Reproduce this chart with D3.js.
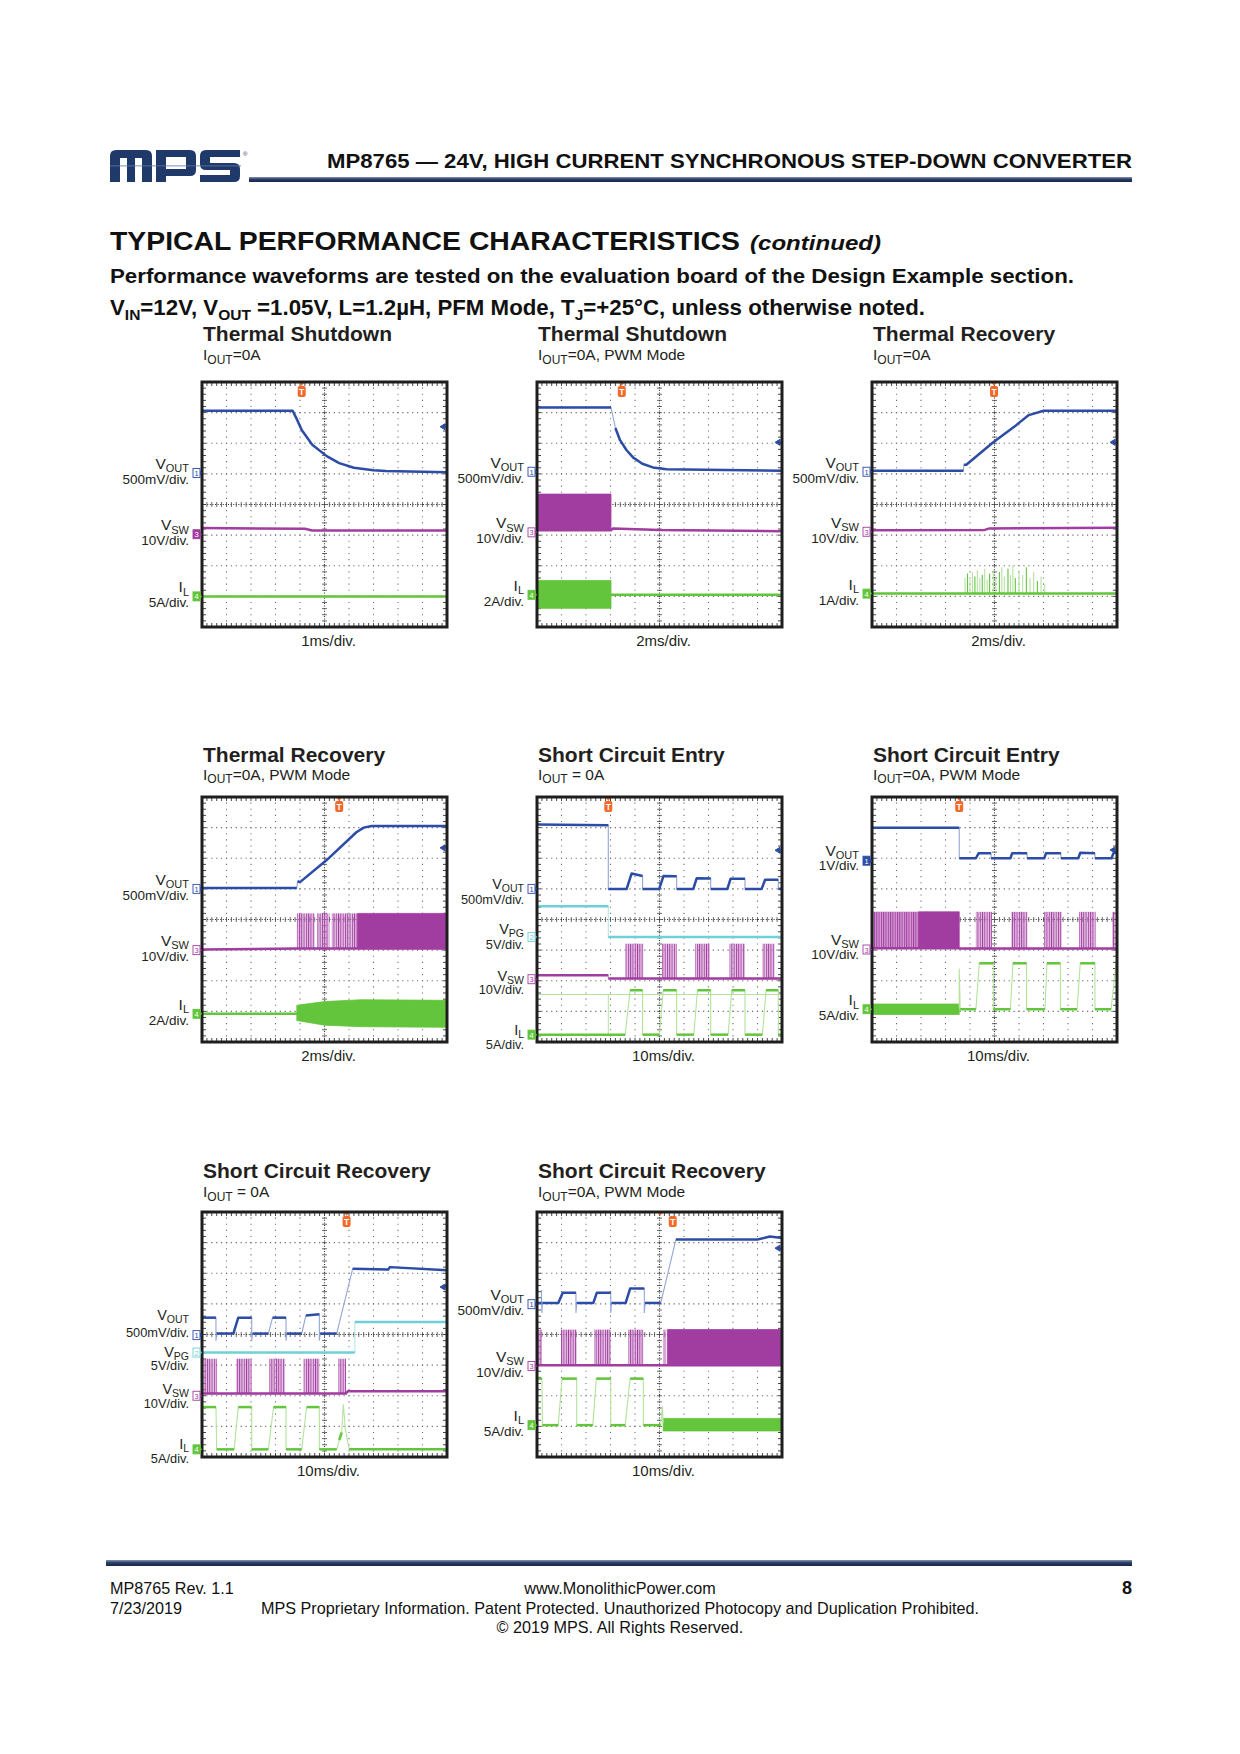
<!doctype html>
<html>
<head>
<meta charset="utf-8">
<title>MP8765 - Typical Performance Characteristics</title>
<style>
  body { margin: 0; background: #fff; }
  svg { display: block; font-family: "Liberation Sans", Arial, Helvetica, sans-serif; }
</style>
</head>
<body>
<div id="here"></div>
<script src="https://cdn.jsdelivr.net/npm/d3@7"></script>
<script>
// scope captures in screen divisions:
// x = time 0..10 div, y = 0..8 div counted from the bottom of the screen

var titles = ["Thermal Shutdown", "Thermal Shutdown", "Thermal Recovery", "Thermal Recovery",
              "Short Circuit Entry", "Short Circuit Entry", "Short Circuit Recovery", "Short Circuit Recovery"];
var subtitles = ["=0A", "=0A, PWM Mode", "=0A", "=0A, PWM Mode", " = 0A", "=0A, PWM Mode", " = 0A", "=0A, PWM Mode"];
var timebase = ["1ms/div.", "2ms/div.", "2ms/div.", "2ms/div.", "10ms/div.", "10ms/div.", "10ms/div.", "10ms/div."];
var triggerAt = [4.07, 3.46, 4.98, 5.6, 2.91, 3.56, 5.9, 5.54];
var triggerPos = [4.07, 3.46, 4.98, 5.6, 2.91, 3.56, 5.9, 5.02];
var levelAt = [6.54, 6.03, 6.03, 6.34, 6.26, 6.27, 5.55, 6.82];

var chanIds = [[1, 3, 4], [1, 3, 4], [1, 3, 4], [1, 3, 4], [1, 2, 3, 4], [1, 3, 4], [1, 2, 3, 4], [1, 3, 4]];
var chanScales = [
  ["500mV/div.", "10V/div.", "5A/div."],
  ["500mV/div.", "10V/div.", "2A/div."],
  ["500mV/div.", "10V/div.", "1A/div."],
  ["500mV/div.", "10V/div.", "2A/div."],
  ["500mV/div.", "5V/div.", "10V/div.", "5A/div."],
  ["1V/div.", "10V/div.", "5A/div."],
  ["500mV/div.", "5V/div.", "10V/div.", "5A/div."],
  ["500mV/div.", "10V/div.", "5A/div."]
];
var chanRefs = [
  [5.03, 3.03, 1.0], [5.07, 3.09, 1.05], [5.07, 3.11, 1.09], [5.0, 3.0, 0.92],
  [5.0, 3.43, 2.05, 0.24], [5.92, 3.02, 1.07], [3.98, 3.41, 2.0, 0.25], [4.99, 2.97, 1.04]
];
var markerFill = [[3, 4], [4], [4], [4], [4], [1, 4], [4], [4]];

// A  thermal shutdown, 1ms/div
var aVout = [[0,7.06],[3.7,7.06],[3.85,6.82],[4.07,6.43],[4.5,5.95],[5.09,5.58],[5.6,5.35],[6.2,5.2],[7.0,5.12],[7.5,5.09],[10,5.05]];
var aVsw = [[0,3.23],[4.2,3.21],[4.5,3.15],[10,3.15]];
var aIl = [[0,1.0],[10,1.0]];

// B  thermal shutdown, PWM
var bVout = [[0,7.17],[3.02,7.17],[3.2,6.5],[3.39,6.1],[3.65,5.78],[3.93,5.53],[4.3,5.33],[4.73,5.21],[5.29,5.15],[10,5.1]];
var bVsw = [[0,3.16],[3.02,3.16],[3.1,3.22],[5,3.17],[10,3.13]];
var bVswBand = [[0,3.16,4.34],[3.02,3.16,4.34]];
var bIl = [[0,1.05],[10,1.05]];
var bIlBand = [[0,0.61,1.52],[3.02,0.61,1.52]];

// C  thermal recovery
var cVout = [[0,5.1],[3.73,5.1],[3.75,5.3],[3.85,5.3],[4.95,6.03],[5.9,6.6],[6.4,6.92],[7.0,7.06],[10,7.06]];
var cVsw = [[0,3.16],[4.6,3.17],[4.8,3.22],[10,3.24]];
var cIl = [[0,1.09],[10,1.09]];
var cIlSpikes = [[3.8,1.6],[3.9,1.75],[4.0,1.55],[4.1,1.8],[4.2,1.65],[4.3,1.85],[4.4,1.6],[4.5,1.7],[4.6,1.9],[4.7,1.55],
                 [4.8,1.75],[4.95,1.85],[5.05,1.6],[5.2,1.8],[5.3,1.95],[5.4,1.65],[5.55,1.9],[5.65,1.7],[5.75,2.0],[5.85,1.6],
                 [6.0,1.85],[6.15,1.7],[6.3,1.95],[6.45,1.6],[6.6,1.8],[6.75,1.5],[6.9,1.65],[7.05,1.4]];

// D  thermal recovery, PWM
var dVout = [[0,5.03],[3.87,5.03],[3.9,5.25],[4.0,5.22],[5.09,5.94],[6.3,6.85],[6.6,7.0],[6.93,7.05],[10,7.05]];
var dVsw = [[0,3.02],[3.87,3.05],[10,3.05]];
var dVswBursts = [[3.87,4.6,3.05,4.2],[4.7,5.2,3.05,4.2],[5.3,6.35,3.05,4.2]];
var dVswBand = [[6.35,3.05,4.2],[10,3.05,4.2]];
var dIl = [[0,0.92],[10,0.92]];
var dIlBand = [[3.87,0.7,1.2],[5,0.55,1.32],[6.5,0.5,1.38],[10,0.48,1.36]];

// E  short circuit entry
var eVout = [[0,7.1],[2.91,7.08],[2.91,5.0],[3.66,5.0],[3.86,5.5],[4.31,5.42],[4.31,5.0],[4.99,5.0],[5.16,5.42],[5.7,5.41],[5.7,5.0],
             [6.38,5.0],[6.52,5.35],[7.09,5.34],[7.09,5.0],[7.77,5.0],[7.9,5.33],[8.49,5.33],[8.49,5.0],[9.17,5.0],[9.31,5.3],[9.85,5.3],[9.85,5.0],[10,5.0]];
var eVpg = [[0,4.43],[2.91,4.43],[2.91,3.43],[10,3.43]];
var eVsw = [[0,2.18],[2.91,2.18],[2.91,2.07],[10,2.07]];
var eVswBursts = [[3.6,4.34,2.07,3.21],[5.1,5.7,2.07,3.21],[6.45,7.05,2.07,3.21],[7.86,8.49,2.07,3.21],[9.2,9.7,2.07,3.21]];
var eIlGhost = [[[0,1.55],[10,1.55]],[[2.91,0.24],[2.91,1.55]]];
var eIl = [[0,0.24],[3.6,0.24],[3.8,1.69],[4.31,1.69],[4.31,0.24],[5.0,0.24],[5.15,1.69],[5.7,1.69],[5.7,0.24],[6.4,0.24],[6.55,1.69],[7.09,1.69],
           [7.09,0.24],[7.8,0.24],[7.95,1.69],[8.49,1.69],[8.49,0.24],[9.2,0.24],[9.35,1.69],[9.85,1.69],[9.85,0.24],[10,0.24]];

// F  short circuit entry, PWM
var fVout = [[0,7.0],[3.56,7.0],[3.56,6.0],[4.24,6.0],[4.35,6.16],[4.86,6.16],[4.86,6.0],[5.65,6.0],[5.72,6.16],[6.33,6.16],[6.33,6.0],[7.03,6.0],
             [7.1,6.16],[7.71,6.16],[7.71,6.0],[8.42,6.0],[8.5,6.18],[9.1,6.16],[9.1,6.0],[9.78,6.0],[9.85,6.16],[10,6.2]];
var fVsw = [[0,3.06],[3.56,3.06],[3.58,3.05],[10,3.05]];
var fVswHaze = [[0,3.06,4.25],[1.9,3.06,4.25]];
var fVswBursts = [[0,1.9,3.06,4.25],[4.24,4.9,3.05,4.25],[5.68,6.35,3.05,4.25],[7.03,7.74,3.05,4.25],[8.45,9.13,3.05,4.25],[9.8,9.93,3.05,4.25]];
var fVswBand = [[1.9,3.06,4.25],[3.56,3.06,4.25]];
var fIl = [[0,1.07],[3.56,1.07],[3.56,2.4],[3.6,1.07],[4.24,1.07],[4.38,2.57],[4.95,2.57],[4.95,1.07],[5.65,1.07],[5.75,2.57],[6.31,2.57],[6.31,1.07],
           [7.06,1.07],[7.14,2.57],[7.69,2.57],[7.69,1.07],[8.37,1.07],[8.5,2.57],[9.1,2.57],[9.1,1.07],[9.76,1.07],[9.96,2.57],[10,2.57]];
var fIlBand = [[0,0.9,1.24],[3.56,0.9,1.24]];

// G  short circuit recovery
var gVout = [[0,4.55],[0.57,4.55],[0.57,3.8],[0.6,4.03],[1.28,4.03],[1.48,4.55],[2.03,4.55],[2.03,3.8],[2.06,4.03],[2.71,4.03],[2.88,4.55],[3.43,4.55],
             [3.43,3.8],[3.46,4.03],[4.07,4.03],[4.24,4.62],[4.79,4.66],[4.79,3.8],[4.82,4.03],[5.5,4.03],[5.55,4.2],[6.15,6.15],[7.6,6.12],[7.67,6.2],[10,6.1]];
var gVpg = [[0,3.41],[6.24,3.41],[6.24,4.41],[10,4.41]];
var gVsw = [[0,2.07],[5.88,2.07],[5.95,2.15],[10,2.15]];
var gVswBursts = [[0.05,0.6,2.07,3.21],[1.39,2.03,2.07,3.21],[2.75,3.39,2.07,3.21],[4.14,4.79,2.07,3.21],[5.57,5.88,2.07,3.21]];
var gIl = [[0,1.63],[0.57,1.63],[0.6,0.25],[1.31,0.25],[1.48,1.63],[2.03,1.63],[2.03,0.25],[2.71,0.25],[2.92,1.63],[3.43,1.63],[3.43,0.25],
           [4.07,0.25],[4.27,1.63],[4.79,1.63],[4.79,0.25],[5.5,0.25],[5.6,0.55],[5.7,0.8],[5.77,1.72],[5.85,0.9],[6.01,0.25],[10,0.25]];

// H  short circuit recovery, PWM
var hVout = [[0,5.03],[0.18,5.03],[0.18,5.45],[0.2,4.7],[0.22,5.03],[0.87,5.03],[1.05,5.36],[1.59,5.36],[1.59,4.7],[1.62,5.03],[2.3,5.03],[2.44,5.36],
             [3.01,5.36],[3.01,4.7],[3.04,5.03],[3.62,5.03],[3.8,5.5],[4.38,5.5],[4.38,4.7],[4.41,5.03],[5.05,5.03],[5.67,7.1],[9.0,7.1],[9.5,7.2],[10,7.15]];
var hVsw = [[0,3.0],[10,3.0]];
var hVswBursts = [[0.05,0.2,3.0,4.16],[0.98,1.62,3.0,4.16],[2.33,3.01,3.0,4.16],[3.73,4.34,3.0,4.16],[5.15,5.25,3.0,4.16]];
var hVswBand = [[5.32,3.0,4.16],[10,3.0,4.16]];
var hIl = [[0,2.56],[0.2,2.56],[0.22,1.04],[0.87,1.04],[1.02,2.56],[1.62,2.56],[1.62,1.04],[2.28,1.04],[2.42,2.56],[3.01,2.56],[3.01,1.04],
           [3.6,1.04],[3.8,2.56],[4.34,2.56],[4.34,1.04],[5.05,1.04],[5.12,1.65],[5.15,1.1]];
var hIlBand = [[5.15,0.85,1.26],[10,0.85,1.26]];

var panels = [
  { lines: [[4, aIl], [3, aVsw], [1, aVout]] },
  { bands: [[4, bIlBand], [3, bVswBand]], lines: [[4, bIl], [3, bVsw], [1, bVout]] },
  { spikes: [[4, 1.09, cIlSpikes]], lines: [[4, cIl], [3, cVsw], [1, cVout]] },
  { bursts: [[3, dVswBursts]], bands: [[4, dIlBand], [3, dVswBand]], lines: [[4, dIl], [3, dVsw], [1, dVout]] },
  { ghosts: [[4, eIlGhost]], bursts: [[3, eVswBursts]], lines: [[4, eIl], [3, eVsw], [2, eVpg], [1, eVout]] },
  { haze: [[3, fVswHaze]], bursts: [[3, fVswBursts]], bands: [[4, fIlBand], [3, fVswBand]], lines: [[4, fIl], [3, fVsw], [1, fVout]] },
  { bursts: [[3, gVswBursts]], lines: [[4, gIl], [3, gVsw], [2, gVpg], [1, gVout]] },
  { bursts: [[3, hVswBursts]], bands: [[4, hIlBand], [3, hVswBand]], lines: [[4, hIl], [3, hVsw], [1, hVout]] }
];

// ---- layout
var S = 245;
var colX = [202, 537, 872], rowY = [382, 797, 1212];
var titleDy = [[-41, -22], [-35, -17.5], [-34, -15]];
var color = {1: "#2d4ca6", 2: "#6fd0d6", 3: "#a13ca0", 4: "#63c53b"};
var light = {1: "#93a5d8", 2: "#b3e8eb", 3: "#d59dd4", 4: "#b3e39d"};
var chName = {1: ["V", "OUT"], 2: ["V", "PG"], 3: ["V", "SW"], 4: ["I", "L"]};
var labelDy = {4: {1: [0, 15], 2: [-3, 12.5], 3: [1.5, 14.5], 4: [0, 14]},
               5: {1: [-5, 9], 3: [-5, 9]},
               6: {1: [-15, 1.5], 2: [4.5, 17.5], 3: [-2, 12], 4: [0, 14]}};
var labelSize = {4: [14.5, 10.5, 12.8], 6: [14.5, 10.5, 12.8]};
var ink = "#231f20";

var svg = d3.select("#here").append("svg").attr("width", 1240).attr("height", 1754);
var defs = svg.append("defs");

// stripes for switching bursts
[3].forEach(function(c) {
  var p = defs.append("pattern").attr("id", "burst" + c).attr("patternUnits", "userSpaceOnUse")
    .attr("width", 2.3).attr("height", 10);
  p.append("rect").attr("x", 0).attr("width", 1.1).attr("height", 10).attr("fill", color[c]);
  p.append("rect").attr("x", 1.3).attr("width", 0.7).attr("height", 10).attr("fill", light[c]);
});
var gr = defs.append("linearGradient").attr("id", "rule").attr("x1", 0).attr("x2", 0).attr("y1", 0).attr("y2", 1);
gr.append("stop").attr("offset", 0).attr("stop-color", "#8796b3");
gr.append("stop").attr("offset", 0.45).attr("stop-color", "#2a3d66");
gr.append("stop").attr("offset", 1).attr("stop-color", "#16264a");

// parts: [text, 0 normal | 1 drop into subscript | -1 come back up]
function subText(t, parts, big, small) {
  parts.forEach(function(p) {
    t.append("tspan").text(p[0]).attr("font-size", p[1] === 1 ? small : big)
      .attr("dy", p[1] === 1 ? "0.3em" : p[1] === -1 ? "-" + (0.3 * small / big).toFixed(3) + "em" : null);
  });
  return t;
}
function subParts(main, sub, rest) {
  var out = [[main, 0], [sub, 1]];
  if (rest) out.push([rest, -1]);
  return out;
}

// ---- header
var logo = svg.append("g").attr("fill", "#1f3a6a");
logo.append("path").attr("d", "M110,182V156Q110,150 116,150H146Q152,150 152,156V182H142V158H135V182H127V158H120V182Z");
logo.append("path").attr("fill-rule", "evenodd")
  .attr("d", "M156,182V150H190Q196,150 196,156V170Q196,176 190,176H166V182Z M166,157H186V169H166Z");
logo.append("path").attr("d", "M206,150H240V157H210V163H234Q240,163 240,169V176Q240,182 234,182H200V175H230V170H206Q200,170 200,164V156Q200,150 206,150Z");
logo.append("rect").attr("x", 110).attr("y", 165.5).attr("width", 131).attr("height", 0.8).attr("fill", "#5d79a8");
svg.append("text").attr("x", 243).attr("y", 156).attr("font-size", 6).attr("fill", "#1f3a6a").text("®");
svg.append("rect").attr("x", 249).attr("y", 177).attr("width", 883).attr("height", 5).attr("fill", "url(#rule)");
svg.append("text").attr("x", 327).attr("y", 168).attr("font-size", 20).attr("font-weight", "bold").attr("fill", "#111")
  .attr("textLength", 805).attr("lengthAdjust", "spacingAndGlyphs")
  .text("MP8765 \u2014 24V, HIGH CURRENT SYNCHRONOUS STEP-DOWN CONVERTER");

svg.append("text").attr("x", 110).attr("y", 250).attr("font-size", 25.5).attr("font-weight", "bold").attr("fill", "#111")
  .attr("textLength", 630).attr("lengthAdjust", "spacingAndGlyphs").text("TYPICAL PERFORMANCE CHARACTERISTICS");
svg.append("text").attr("x", 750).attr("y", 250).attr("font-size", 21).attr("font-weight", "bold").attr("font-style", "italic")
  .attr("fill", "#111").attr("textLength", 131).attr("lengthAdjust", "spacingAndGlyphs").text("(continued)");
svg.append("text").attr("x", 110).attr("y", 282.5).attr("font-size", 20).attr("font-weight", "bold").attr("fill", "#111")
  .attr("textLength", 964).attr("lengthAdjust", "spacingAndGlyphs")
  .text("Performance waveforms are tested on the evaluation board of the Design Example section.");
subText(svg.append("text").attr("x", 110).attr("y", 315).attr("font-size", 21.5).attr("font-weight", "bold").attr("fill", "#111")
    .attr("textLength", 815).attr("lengthAdjust", "spacingAndGlyphs"),
  [["V", 0], ["IN", 1], ["=12V, V", -1], ["OUT", 1], [" =1.05V, L=1.2\u00b5H, PFM Mode, T", -1], ["J", 1], ["=+25\u00b0C, unless otherwise noted.", -1]], 21.5, 15);

// ---- panels
panels.forEach(function(pn, i) {
  var left = colX[i % 3], top = rowY[Math.floor(i / 3)], row = Math.floor(i / 3);
  var x = d3.scaleLinear().domain([0, 10]).range([left, left + S]);
  var y = d3.scaleLinear().domain([0, 8]).range([top + S, top]);
  var line = d3.line().x(function(d) { return x(d[0]); }).y(function(d) { return y(d[1]); });
  var area = d3.area().x(function(d) { return x(d[0]); }).y0(function(d) { return y(d[1]); }).y1(function(d) { return y(d[2]); });
  var g = svg.append("g");

  // titles
  g.append("text").attr("x", left + 1).attr("y", top + titleDy[row][0]).attr("font-size", 21).attr("font-weight", "bold")
    .attr("fill", ink).text(titles[i]);
  subText(g.append("text").attr("x", left + 1).attr("y", top + titleDy[row][1]).attr("font-size", 15.5).attr("fill", ink),
    subParts("I", "OUT", subtitles[i]), 15.5, 12);
  g.append("text").attr("x", left + S / 2 + 4).attr("y", top + S + 19).attr("text-anchor", "middle")
    .attr("font-size", 15).attr("fill", ink).text(timebase[i]);

  var clipId = "clip" + i;
  defs.append("clipPath").attr("id", clipId).append("rect").attr("x", left).attr("y", top).attr("width", S).attr("height", S);
  var scr = g.append("g").attr("clip-path", "url(#" + clipId + ")");
  scr.append("rect").attr("x", left).attr("y", top).attr("width", S).attr("height", S).attr("fill", "#fff");

  // graticule
  var dx = S / 50, dyv = S / 40;
  scr.selectAll(".gv").data(d3.range(1, 10).filter(function(d) { return d !== 5; })).join("line")
    .attr("x1", x).attr("x2", x).attr("y1", top - 0.6).attr("y2", top + S)
    .attr("stroke", "#6d6d6d").attr("stroke-width", 1.1).attr("stroke-dasharray", "1.2 " + (dyv - 1.2));
  scr.selectAll(".gh").data(d3.range(1, 8).filter(function(d) { return d !== 4; })).join("line")
    .attr("y1", y).attr("y2", y).attr("x1", left - 0.6).attr("x2", left + S)
    .attr("stroke", "#6d6d6d").attr("stroke-width", 1.1).attr("stroke-dasharray", "1.2 " + (dx - 1.2));
  // centre cross with minor ticks
  scr.append("line").attr("x1", x(5)).attr("x2", x(5)).attr("y1", top).attr("y2", top + S)
    .attr("stroke", "#333").attr("stroke-width", 1.1).attr("stroke-dasharray", "1 1.6");
  scr.append("line").attr("y1", y(4)).attr("y2", y(4)).attr("x1", left).attr("x2", left + S)
    .attr("stroke", "#333").attr("stroke-width", 1.1).attr("stroke-dasharray", "1 1.6");
  var minX = d3.range(1, 50), minY = d3.range(1, 40);
  scr.selectAll(".tx").data(minX).join("line")
    .attr("x1", function(d) { return left + d * dx; }).attr("x2", function(d) { return left + d * dx; })
    .attr("y1", y(4) - 2.5).attr("y2", y(4) + 2.5).attr("stroke", "#444").attr("stroke-width", 0.8);
  scr.selectAll(".ty").data(minY).join("line")
    .attr("y1", function(d) { return top + d * dyv; }).attr("y2", function(d) { return top + d * dyv; })
    .attr("x1", x(5) - 2.5).attr("x2", x(5) + 2.5).attr("stroke", "#444").attr("stroke-width", 0.8);
  // edge ticks
  scr.selectAll(".et").data(minX).join("path")
    .attr("d", function(d) { var xx = left + d * dx; return "M" + xx + "," + top + "v4M" + xx + "," + (top + S) + "v-4"; })
    .attr("stroke", "#333").attr("stroke-width", 0.9);
  scr.selectAll(".el").data(minY).join("path")
    .attr("d", function(d) { var yy = top + d * dyv; return "M" + left + "," + yy + "h4M" + (left + S) + "," + yy + "h-4"; })
    .attr("stroke", "#333").attr("stroke-width", 0.9);

  // waveforms
  (pn.ghosts || []).forEach(function(gh) {
    gh[1].forEach(function(pts) {
      scr.append("path").attr("d", line(pts)).attr("fill", "none").attr("stroke", light[gh[0]]).attr("stroke-width", 1);
    });
  });
  (pn.haze || []).forEach(function(b) {
    scr.append("path").attr("d", area(b[1])).attr("fill", light[b[0]]);
  });
  (pn.bursts || []).forEach(function(b) {
    scr.selectAll(null).data(b[1]).join("rect")
      .attr("x", function(d) { return x(d[0]); }).attr("width", function(d) { return x(d[1]) - x(d[0]); })
      .attr("y", function(d) { return y(d[3]); }).attr("height", function(d) { return y(d[2]) - y(d[3]); })
      .attr("fill", "url(#burst" + b[0] + ")");
  });
  (pn.bands || []).forEach(function(b) {
    scr.append("path").attr("d", area(b[1])).attr("fill", color[b[0]]).attr("stroke", color[b[0]]).attr("stroke-width", 0.8);
  });
  (pn.spikes || []).forEach(function(s) {
    scr.selectAll(null).data(s[2]).join("line")
      .attr("x1", function(d) { return x(d[0]); }).attr("x2", function(d) { return x(d[0]); })
      .attr("y1", y(s[1])).attr("y2", function(d) { return y(d[1]); })
      .attr("stroke", function(d, k) { return k % 3 === 1 ? color[s[0]] : light[s[0]]; }).attr("stroke-width", 1.1);
  });
  pn.lines.forEach(function(l) {
    var c = l[0], pts = l[1];
    scr.append("path").attr("d", line(pts)).attr("fill", "none").attr("stroke", light[c]).attr("stroke-width", 1.1);
    // heavy trace only where the beam moves slowly
    var runs = [], cur = [pts[0]];
    for (var k = 1; k < pts.length; k++) {
      var ddx = Math.abs(x(pts[k][0]) - x(pts[k - 1][0])), ddy = Math.abs(y(pts[k][1]) - y(pts[k - 1][1]));
      if (ddy > 3.5 * ddx && ddy > 2) { if (cur.length > 1) runs.push(cur); cur = [pts[k]]; }
      else cur.push(pts[k]);
    }
    if (cur.length > 1) runs.push(cur);
    runs.forEach(function(r) {
      scr.append("path").attr("d", line(r)).attr("fill", "none").attr("stroke", color[c])
        .attr("stroke-width", 2.5).attr("stroke-linejoin", "round");
    });
  });

  // trigger marks
  var tp = x(triggerPos[i]), tt = x(triggerAt[i]);
  scr.append("path").attr("d", "M" + (tp - 3) + "," + top + "h6l-3,4z").attr("fill", "#f26a2a");
  scr.append("rect").attr("x", tt - 4).attr("y", top + 4).attr("width", 8).attr("height", 11).attr("rx", 2).attr("fill", "#f26a2a");
  scr.append("text").attr("x", tt).attr("y", top + 13).attr("text-anchor", "middle").attr("font-size", 8.5)
    .attr("font-weight", "bold").attr("fill", "#fff").text("T");
  var ly = y(levelAt[i]);
  scr.append("path").attr("d", "M" + (left + S - 7) + "," + ly + "l5,-3v6z M" + (left + S - 3) + "," + ly + "h3")
    .attr("fill", color[1]).attr("stroke", color[1]).attr("stroke-width", 1);

  g.append("rect").attr("x", left).attr("y", top).attr("width", S).attr("height", S)
    .attr("fill", "none").attr("stroke", "#1e1e1e").attr("stroke-width", 3);

  // channel labels and ground markers
  var ls = labelSize[i] || [15.5, 11, 13.5];
  chanIds[i].forEach(function(c, k) {
    var yy = y(chanRefs[i][k]);
    var off = (labelDy[i] && labelDy[i][c]) || [-4, 11];
    var filled = markerFill[i].indexOf(c) >= 0;
    g.append("rect").attr("x", left - 9).attr("y", yy - 4.5).attr("width", 7).attr("height", 9)
      .attr("fill", filled ? color[c] : "#fff").attr("stroke", color[c]).attr("stroke-width", 0.9);
    g.append("path").attr("d", "M" + (left - 2) + "," + (yy - 2.5) + "l2,2.5l-2,2.5z").attr("fill", color[c]);
    g.append("text").attr("x", left - 5.5).attr("y", yy + 3).attr("text-anchor", "middle").attr("font-size", 7.5)
      .attr("fill", filled ? "#fff" : color[c]).text(c);
    subText(g.append("text").attr("x", left - 13).attr("y", yy + off[0]).attr("text-anchor", "end").attr("font-size", ls[0]).attr("fill", ink),
      subParts(chName[c][0], chName[c][1]), ls[0], ls[1]);
    g.append("text").attr("x", left - 13).attr("y", yy + off[1]).attr("text-anchor", "end").attr("font-size", ls[2])
      .attr("fill", ink).text(chanScales[i][k]);
  });
});

// ---- footer
svg.append("rect").attr("x", 106).attr("y", 1560).attr("width", 1026).attr("height", 6).attr("fill", "url(#rule)");
var foot = svg.append("g").attr("font-size", 16.2).attr("fill", "#111");
foot.append("text").attr("x", 110).attr("y", 1594).text("MP8765 Rev. 1.1");
foot.append("text").attr("x", 110).attr("y", 1614).text("7/23/2019");
foot.append("text").attr("x", 620).attr("y", 1594).attr("text-anchor", "middle").text("www.MonolithicPower.com");
foot.append("text").attr("x", 620).attr("y", 1614).attr("text-anchor", "middle")
  .text("MPS Proprietary Information. Patent Protected. Unauthorized Photocopy and Duplication Prohibited.");
foot.append("text").attr("x", 620).attr("y", 1633).attr("text-anchor", "middle").text("\u00a9 2019 MPS. All Rights Reserved.");
foot.append("text").attr("x", 1132).attr("y", 1594).attr("text-anchor", "end").attr("font-size", 18)
  .attr("font-weight", "bold").text("8");
</script>
</body>
</html>
